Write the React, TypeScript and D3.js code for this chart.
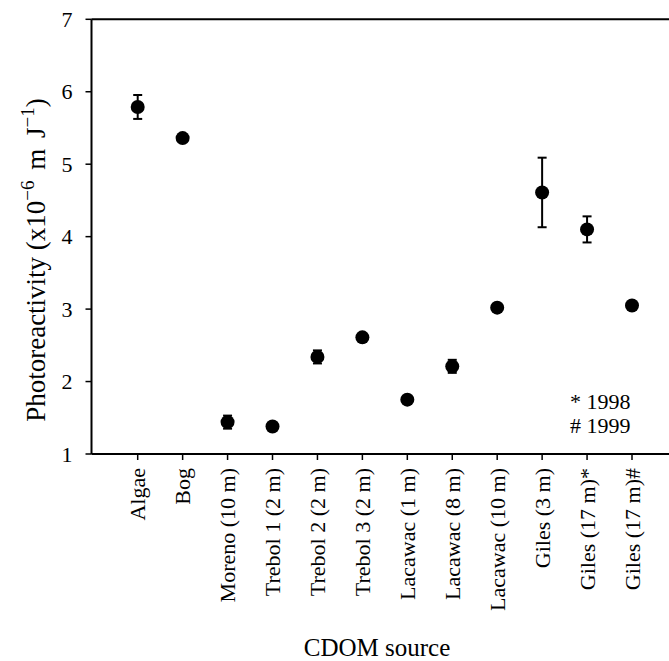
import React from "react";
import * as d3 from "d3";

const categories = [
  "Algae",
  "Bog",
  "Moreno (10 m)",
  "Trebol 1 (2 m)",
  "Trebol 2 (2 m)",
  "Trebol 3 (2 m)",
  "Lacawac (1 m)",
  "Lacawac (8 m)",
  "Lacawac (10 m)",
  "Giles (3 m)",
  "Giles (17 m)*",
  "Giles (17 m)#",
];
const values = [5.79, 5.36, 1.44, 1.38, 2.34, 2.61, 1.75, 2.21, 3.02, 4.61, 4.1, 3.05];
const errors = [0.165, 0, 0.09, 0, 0.09, 0, 0, 0.09, 0, 0.48, 0.18, 0];
const yTicks = [1, 2, 3, 4, 5, 6, 7];
const legendLines = ["* 1998", "# 1999"];

const W = 669;
const H = 661;
const FONT = "'Liberation Serif', 'Times New Roman', Times, serif";

export default function App() {
  const x0 = 91.5;
  const xRight = W;
  const x = d3.scaleLinear().domain([0, categories.length - 1]).range([137.7, 632]);
  const y = d3.scaleLinear().domain([1, 7]).range([454, 19.3]);
  const stroke = "#000";

  return (
    <svg
      width={W}
      height={H}
      viewBox={`0 0 ${W} ${H}`}
      style={{ position: "absolute", left: 0, top: 0, display: "block", background: "#fff" }}
      fontFamily={FONT}
    >
      <rect x={0} y={0} width={W} height={H} fill="#fff" />
      {/* frame */}
      <line x1={x0} x2={xRight} y1={y(7)} y2={y(7)} stroke={stroke} strokeWidth={2} />
      <line x1={x0} x2={x0} y1={y(7)} y2={y(1)} stroke={stroke} strokeWidth={2} />
      <line x1={x0} x2={xRight} y1={y(1)} y2={y(1)} stroke={stroke} strokeWidth={2} />

      {/* y ticks */}
      {yTicks.map((t) => (
        <g key={t}>
          <line x1={x0 - 6} x2={x0} y1={y(t)} y2={y(t)} stroke={stroke} strokeWidth={1.5} />
          <text x={x0 - 19} y={y(t)} dy="0.35em" textAnchor="end" fontSize={22}>
            {t}
          </text>
        </g>
      ))}

      {/* x ticks & labels */}
      {categories.map((c, i) => (
        <g key={c}>
          <line x1={x(i)} x2={x(i)} y1={y(1)} y2={y(1) + 6} stroke={stroke} strokeWidth={1.5} />
          <text
            transform={`translate(${x(i) + 7.5},468) rotate(-90)`}
            textAnchor="end"
            fontSize={22}
          >
            {c}
          </text>
        </g>
      ))}

      {/* error bars */}
      {values.map((v, i) =>
        errors[i] > 0 ? (
          <g key={"e" + i} stroke={stroke} strokeWidth={2}>
            <line x1={x(i)} x2={x(i)} y1={y(v + errors[i])} y2={y(v - errors[i])} />
            <line x1={x(i) - 4.5} x2={x(i) + 4.5} y1={y(v + errors[i])} y2={y(v + errors[i])} />
            <line x1={x(i) - 4.5} x2={x(i) + 4.5} y1={y(v - errors[i])} y2={y(v - errors[i])} />
          </g>
        ) : null
      )}

      {/* points */}
      {values.map((v, i) => (
        <circle key={"p" + i} cx={x(i)} cy={y(v)} r={7} fill="#000" />
      ))}

      {/* legend */}
      {legendLines.map((l, i) => (
        <text key={l} x={570} y={409 + i * 24} fontSize={22}>
          {l}
        </text>
      ))}

      {/* axis titles */}
      <text x={377} y={656} textAnchor="middle" fontSize={25}>
        CDOM source
      </text>
      <text transform={`translate(45,260) rotate(-90)`} textAnchor="middle" fontSize={27}>
        Photoreactivity (x10
        <tspan dy={-11} fontSize={19}>−6</tspan>
        <tspan dy={11} dx={4}> m</tspan>
        <tspan dx={4}> J</tspan>
        <tspan dy={-11} fontSize={19}>−1</tspan>
        <tspan dy={11}>)</tspan>
      </text>
    </svg>
  );
}
